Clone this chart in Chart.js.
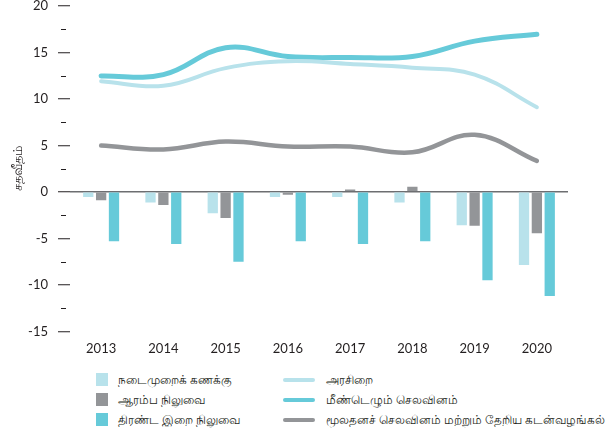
<!DOCTYPE html>
<html>
<head>
<meta charset="utf-8">
<script src="https://cdn.jsdelivr.net/npm/chart.js@4/dist/chart.umd.min.js"></script>
<style>
  body { margin: 0; background: #fff; overflow: hidden; }
  #wrap { position: relative; width: 609px; height: 437px; overflow: hidden; }
  #graf { position: absolute; left: 0; top: -12px; }
  #legenda { position: absolute; left: 96px; top: 371px; width: 513px; font-family: "Noto Sans", "Lato", sans-serif; font-size: 12px; color: #231f20; }
  .item { position: absolute; display: flex; align-items: center; white-space: nowrap; }
  .caixa { width: 12px; height: 13px; margin-right: 10px; }
  .traco { width: 32px; height: 4px; border-radius: 2px; margin-right: 11px; }
</style>
</head>
<body>
<div id="wrap">
  <canvas id="graf" width="609" height="383"></canvas>
  <div id="legenda"></div>
</div>
<script>
const anos = ["2013", "2014", "2015", "2016", "2017", "2018", "2019", "2020"];

// barras
const nomeCorrente = "நடைமுறைக் கணக்கு";
const corrente = [-0.55, -1.15, -2.3, -0.55, -0.55, -1.15, -3.6, -7.85];
const nomePrimario = "ஆரம்ப நிலுவை";
const primario = [-0.9, -1.4, -2.8, -0.3, 0.25, 0.55, -3.65, -4.45];
const nomeGlobal = "திரண்ட இறை நிலுவை";
const global = [-5.3, -5.6, -7.5, -5.3, -5.6, -5.3, -9.5, -11.2];

// linhas
const nomeReceita = "அரசிறை";
const receita = [11.9, 11.4, 13.3, 14.05, 13.75, 13.35, 12.6, 9.1];
const nomeRecorrente = "மீண்டெழும் செலவினம்";
const recorrente = [12.45, 12.6, 15.5, 14.55, 14.45, 14.55, 16.2, 16.95];
const nomeCapital = "மூலதனச் செலவினம் மற்றும் தேறிய கடன்வழங்கல்";
const capital = [4.98, 4.55, 5.4, 4.87, 4.87, 4.25, 6.13, 3.33];

const yMin = -15, yMax = 20;

const azulClaro = "#b8e2eb";
const cinza = "#939598";
const turquesa = "#66cad9";
const fonte = "'Lato', 'Noto Sans', sans-serif";

function barra(label, data, cor) {
  return { type: "bar", label, data, backgroundColor: cor, barPercentage: 0.8, categoryPercentage: 0.62, order: 2 };
}
function linha(label, data, cor, largura) {
  return { type: "line", label, data, borderColor: cor, backgroundColor: cor, borderWidth: largura,
           pointRadius: 0, tension: 0.4, fill: false, order: 1, borderCapStyle: "round" };
}

// marcas menores do eixo y (a cada 2.5)
const marcasMenores = {
  id: "marcasMenores",
  afterDraw(chart) {
    const y = chart.scales.y;
    const ctx = chart.ctx;
    const x0 = chart.chartArea.left;
    ctx.save();
    ctx.strokeStyle = "#231f20";
    ctx.lineWidth = 1;
    for (let v = yMin + 2.5; v < yMax; v += 5) {
      const py = Math.round(y.getPixelForValue(v)) + 0.5;
      ctx.beginPath();
      ctx.moveTo(x0 - 9, py);
      ctx.lineTo(x0 - 4, py);
      ctx.stroke();
    }
    ctx.restore();
  }
};

const ctx = document.getElementById("graf").getContext("2d");
const grafico = new Chart(ctx, {
  data: {
    labels: anos,
    datasets: [
      linha(nomeReceita, receita, azulClaro, 4),
      linha(nomeRecorrente, recorrente, turquesa, 5),
      linha(nomeCapital, capital, cinza, 4.5),
      barra(nomeCorrente, corrente, azulClaro),
      barra(nomePrimario, primario, cinza),
      barra(nomeGlobal, global, turquesa)
    ]
  },
  options: {
    responsive: false,
    animation: false,
    layout: { padding: { top: 0, right: 41, bottom: 4, left: 0 } },
    plugins: { legend: { display: false }, tooltip: { enabled: false } },
    scales: {
      x: {
        grid: { display: false, drawTicks: false, tickLength: 0 },
        border: { display: false },
        ticks: { color: "#231f20", font: { family: fonte, size: 13 }, padding: 10 }
      },
      y: {
        min: yMin,
        max: yMax,
        afterFit(scale) { scale.width = 70; },
        border: { display: false },
        grid: {
          drawOnChartArea: true,
          drawTicks: true,
          tickLength: 12,
          lineWidth: 1.5,
          color: c => (c.tick && c.tick.value === 0 ? "#6d6e71" : "rgba(0,0,0,0)"),
          tickColor: c => (c.tick && c.tick.value % 5 === 0 ? "#231f20" : "rgba(0,0,0,0)"),
          tickWidth: 1
        },
        ticks: {
          stepSize: 2.5,
          padding: 10,
          color: "#231f20",
          font: { family: fonte, size: 13 },
          callback: v => (v % 5 === 0 ? v : "")
        },
        title: { display: true, text: "சதவீதம்", color: "#231f20", font: { family: "'Noto Sans', sans-serif", size: 13 }, padding: { top: 10, bottom: 0 } }
      }
    }
  },
  plugins: [marcasMenores]
});

// legenda em duas colunas
const legenda = document.getElementById("legenda");
const itensBarra = grafico.data.datasets.filter(d => d.type === "bar");
const itensLinha = grafico.data.datasets.filter(d => d.type === "line");
itensBarra.forEach((d, i) => {
  const el = document.createElement("div");
  el.className = "item";
  el.style.left = "0px";
  el.style.top = (i * 20) + "px";
  el.innerHTML = `<span class="caixa" style="background:${d.backgroundColor}"></span>${d.label}`;
  legenda.appendChild(el);
});
itensLinha.forEach((d, i) => {
  const el = document.createElement("div");
  el.className = "item";
  el.style.left = "187px";
  el.style.top = (i * 20) + "px";
  el.innerHTML = `<span class="traco" style="background:${d.borderColor}"></span>${d.label}`;
  legenda.appendChild(el);
});
</script>
</body>
</html>
